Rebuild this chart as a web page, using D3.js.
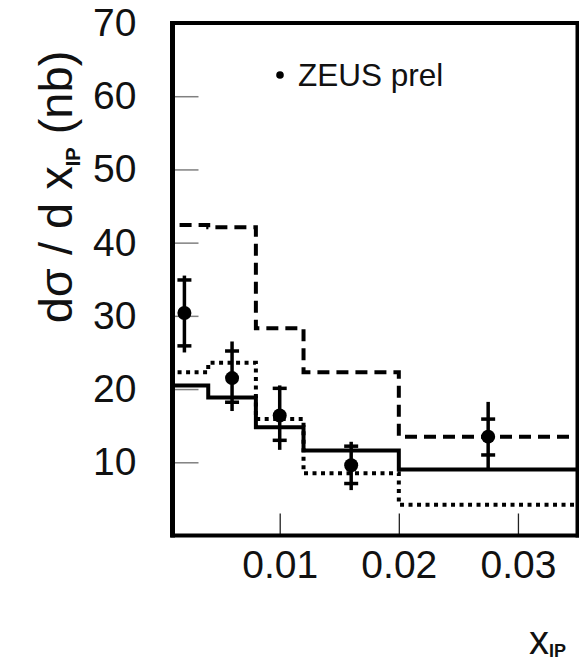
<!DOCTYPE html>
<html><head><meta charset="utf-8">
<script src="https://cdn.jsdelivr.net/npm/d3@7"></script>
<style>body{margin:0;background:#fff}svg{display:block}</style>
</head><body><svg id="c" width="579" height="664"></svg>
<script>
// ---- data ----
const binEdges = [0, 0.004, 0.008, 0.012, 0.020, 0.035];
const solidVals  = [20.5, 18.85, 14.8, 11.6, 9.0];
const dashedVals = [42.4, 42.1, 28.3, 22.3, 13.5];
const dottedVals = [22.3, 23.6, 15.9, 8.5, 4.2];
const pointX = [0.002, 0.006, 0.010, 0.016, 0.0275];
const pointY = [30.4, 21.5, 16.4, 9.6, 13.5];
const statUp = [4.5, 3.7, 3.7, 2.6, 2.4];
const statDn = [4.5, 3.3, 3.4, 2.5, 2.5];
const totUp  = [5.1, 5.0, 4.1, 3.2, 4.75];
const totDn  = [5.4, 4.5, 4.7, 3.4, 4.3];
const yTickVals = [10, 20, 30, 40, 50, 60, 70];
const yMinorTicks = [10, 20, 30, 40, 50, 60];
const xTickVals = [0.01, 0.02, 0.03];
const xTickLabels = ["0.01", "0.02", "0.03"];
const legendLabel = "ZEUS prel";

// ---- layout ----
const L = 172.5, R = 577.5, T = 23, B = 535.5;
const FONT = "'Liberation Sans', Arial, sans-serif";
const svg = d3.select("#c");
const x = d3.scaleLinear().domain([0.001, 0.035]).range([L, R]);
const y = d3.scaleLinear().domain([0, 70]).range([B, T]);

svg.append("defs").append("clipPath").attr("id", "clip")
  .append("rect").attr("x", L).attr("y", T).attr("width", R - L).attr("height", B - T);

// y ticks (grey, inside)
const yt = svg.append("g").attr("transform", `translate(${L},0)`)
  .call(d3.axisRight(y).tickValues(yMinorTicks).tickSize(26).tickFormat(""));
yt.select(".domain").remove();
yt.selectAll("line").attr("stroke", "#808080").attr("stroke-width", 1.5);

// y labels
const yl = svg.append("g").attr("transform", `translate(${L},0)`)
  .call(d3.axisLeft(y).tickValues(yTickVals).tickSize(0).tickPadding(36).tickFormat(d3.format("d")));
yl.select(".domain").remove();
yl.selectAll("text").attr("font-family", FONT).attr("font-size", 39).attr("fill", "#111");

// x ticks (inside, from bottom)
const xt = svg.append("g").attr("transform", `translate(0,${B})`)
  .call(d3.axisTop(x).tickValues(xTickVals).tickSize(22).tickFormat(""));
xt.select(".domain").remove();
xt.selectAll("line").attr("stroke", "#222").attr("stroke-width", 1.3);

const xl = svg.append("g").attr("transform", `translate(0,${B})`)
  .call(d3.axisBottom(x).tickValues(xTickVals).tickSize(0).tickPadding(15)
    .tickFormat((d, i) => xTickLabels[i]));
xl.select(".domain").remove();
xl.selectAll("text").attr("font-family", FONT).attr("font-size", 39).attr("fill", "#111");

// histograms
const stepData = vals => binEdges.map((e, i) => [e, i < vals.length ? vals[i] : vals[vals.length - 1]]);
const line = d3.line().x(d => x(d[0])).y(d => y(d[1])).curve(d3.curveStepAfter);
const hg = svg.append("g").attr("clip-path", "url(#clip)");
hg.append("path").attr("d", line(stepData(dottedVals))).attr("fill", "none")
  .attr("stroke", "#000").attr("stroke-width", 4).attr("stroke-dasharray", "4,4.5");
hg.append("path").attr("d", line(stepData(dashedVals))).attr("fill", "none")
  .attr("stroke", "#000").attr("stroke-width", 4).attr("stroke-dasharray", "12,7");
hg.append("path").attr("d", line(stepData(solidVals))).attr("fill", "none")
  .attr("stroke", "#000").attr("stroke-width", 4);

// data points with errors
const pts = pointX.map((px, i) => ({x: px, y: pointY[i], su: statUp[i], sd: statDn[i], tu: totUp[i], td: totDn[i]}));
const pg = svg.append("g");
pg.selectAll("line.err").data(pts).join("line").attr("class", "err")
  .attr("x1", d => x(d.x)).attr("x2", d => x(d.x))
  .attr("y1", d => y(d.y + d.tu)).attr("y2", d => y(d.y - d.td))
  .attr("stroke", "#000").attr("stroke-width", 3.5);
pg.selectAll("line.capu").data(pts).join("line").attr("class", "capu")
  .attr("x1", d => x(d.x) - 7).attr("x2", d => x(d.x) + 7)
  .attr("y1", d => y(d.y + d.su)).attr("y2", d => y(d.y + d.su))
  .attr("stroke", "#000").attr("stroke-width", 3.5);
pg.selectAll("line.capd").data(pts).join("line").attr("class", "capd")
  .attr("x1", d => x(d.x) - 7).attr("x2", d => x(d.x) + 7)
  .attr("y1", d => y(d.y - d.sd)).attr("y2", d => y(d.y - d.sd))
  .attr("stroke", "#000").attr("stroke-width", 3.5);
pg.selectAll("circle").data(pts).join("circle")
  .attr("cx", d => x(d.x)).attr("cy", d => y(d.y)).attr("r", 7).attr("fill", "#000");

// frame
const fr = svg.append("g").attr("stroke", "#000");
fr.append("line").attr("x1", L).attr("x2", L).attr("y1", T - 2).attr("y2", B + 2).attr("stroke-width", 5);
fr.append("line").attr("x1", L - 2).attr("x2", R + 2).attr("y1", T).attr("y2", T).attr("stroke-width", 4);
fr.append("line").attr("x1", R).attr("x2", R).attr("y1", T - 2).attr("y2", B + 2).attr("stroke-width", 4);
fr.append("line").attr("x1", L - 2).attr("x2", R + 2).attr("y1", B).attr("y2", B).attr("stroke-width", 4);

// legend
svg.append("circle").attr("cx", 280).attr("cy", 75).attr("r", 3.8).attr("fill", "#000");
svg.append("text").attr("x", 298).attr("y", 86).attr("font-family", FONT).attr("font-size", 31.5)
  .attr("fill", "#111").text(legendLabel);

// y title
const yTitle = svg.append("text").attr("transform", "translate(72,187) rotate(-90)")
  .attr("text-anchor", "middle").attr("font-family", FONT).attr("font-size", 47).attr("fill", "#111");
yTitle.append("tspan").text("dσ / d x");
yTitle.append("tspan").attr("font-size", 20).attr("font-weight", "bold").attr("dy", 8).text("IP");
yTitle.append("tspan").attr("dy", -8).text(" (nb)");

// x title
const xTitle = svg.append("text").attr("x", 529).attr("y", 654).attr("font-family", FONT)
  .attr("font-size", 40).attr("fill", "#111");
xTitle.append("tspan").text("x");
xTitle.append("tspan").attr("font-size", 18).attr("font-weight", "bold").attr("dy", 3).text("IP");
</script></body></html>
